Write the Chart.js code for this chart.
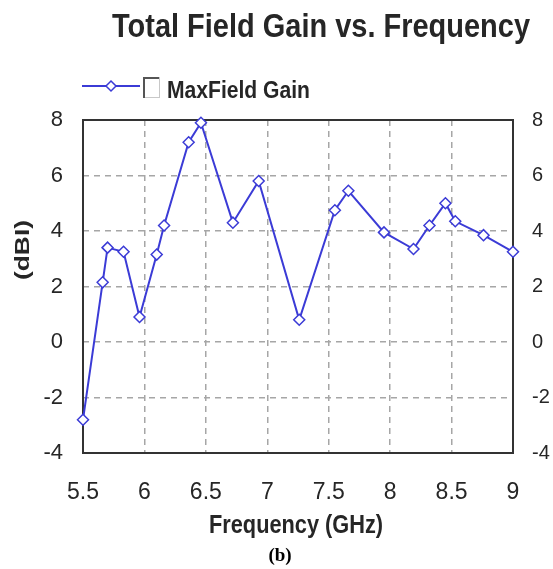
<!DOCTYPE html>
<html>
<head>
<meta charset="utf-8">
<title>Total Field Gain vs. Frequency</title>
<script src="https://cdn.jsdelivr.net/npm/chart.js@4.4.1/dist/chart.umd.min.js"></script>
<style>
  html, body { margin: 0; padding: 0; background: #fff; }
  #wrap { width: 553px; height: 569px; }
</style>
</head>
<body>
<div id="wrap"><canvas id="gainChart" width="553" height="569"></canvas></div>
<script>
// values (GHz, dBi)
const frequencies = [5.50, 5.66, 5.70, 5.83, 5.96, 6.10, 6.16, 6.36, 6.46, 6.72, 6.93,
  7.26, 7.55, 7.66, 7.95, 8.19, 8.32, 8.45, 8.53, 8.76, 9.00];
const maxFieldGain = [-2.8, 2.15, 3.4, 3.25, 0.9, 3.15, 4.2, 7.2, 7.9, 4.3, 5.8,
  0.8, 4.75, 5.45, 3.95, 3.35, 4.2, 5.0, 4.35, 3.85, 3.25];

const xTicks = [5.5, 6, 6.5, 7, 7.5, 8, 8.5, 9];
const xTickLabels = ['5.5', '6', '6.5', '7', '7.5', '8', '8.5', '9'];
const yTicks = [-4, -2, 0, 2, 4, 6, 8];
const yTickLabels = ['-4', '-2', '0', '2', '4', '6', '8'];

const lineBlue = '#3b3bd6';
const gridGrey = '#a6a6a6';
const inkDark = '#262626';
const sans = '"Liberation Sans", Arial, sans-serif';

// the figure's bold labels are a condensed face, so squeeze text to the measured width
function drawFitted(ctx, text, x, y, width, font, align, rotation) {
  ctx.save();
  ctx.font = font;
  const natural = ctx.measureText(text).width;
  ctx.translate(x, y);
  if (rotation) ctx.rotate(rotation);
  ctx.scale(width / natural, 1);
  ctx.textAlign = align || 'left';
  ctx.fillText(text, 0, 0);
  ctx.restore();
}

const setTicks = values => scale => {
  scale.ticks = values.map(v => ({ value: v }));
};
const labelFrom = (values, labels) => value => {
  const i = values.indexOf(value);
  return i < 0 ? '' : labels[i];
};

const figureDecor = {
  id: 'figureDecor',
  beforeDraw(chart) {
    const { ctx } = chart;
    ctx.save();
    ctx.fillStyle = '#fff';
    ctx.fillRect(0, 0, chart.width, chart.height);
    ctx.restore();
  },
  beforeDatasetsDraw(chart) {
    const { ctx, chartArea: a } = chart;
    ctx.save();
    ctx.strokeStyle = '#333';
    ctx.lineWidth = 2;
    ctx.strokeRect(a.left, a.top, a.right - a.left, a.bottom - a.top);
    ctx.restore();
  },
  afterDraw(chart) {
    const { ctx } = chart;
    ctx.save();
    ctx.fillStyle = inkDark;
    ctx.textBaseline = 'alphabetic';
    drawFitted(ctx, 'Total Field Gain vs. Frequency', 321, 37, 418, 'bold 33px ' + sans, 'center');

    // legend: line with diamond, empty check box, label
    ctx.strokeStyle = lineBlue;
    ctx.lineWidth = 2;
    ctx.beginPath();
    ctx.moveTo(82, 86);
    ctx.lineTo(140, 86);
    ctx.stroke();
    ctx.fillStyle = '#fff';
    ctx.lineWidth = 1.5;
    ctx.beginPath();
    ctx.moveTo(111, 81);
    ctx.lineTo(116, 86);
    ctx.lineTo(111, 91);
    ctx.lineTo(106, 86);
    ctx.closePath();
    ctx.fill();
    ctx.stroke();
    ctx.strokeStyle = '#c8c8c8';
    ctx.lineWidth = 1;
    ctx.strokeRect(143.5, 77.5, 16, 20);
    ctx.strokeStyle = '#555';
    ctx.lineWidth = 2;
    ctx.beginPath();
    ctx.moveTo(144, 98);
    ctx.lineTo(144, 78);
    ctx.lineTo(159, 78);
    ctx.stroke();
    ctx.fillStyle = inkDark;
    drawFitted(ctx, 'MaxField Gain', 167, 98, 143, 'bold 24px ' + sans, 'left');

    ctx.textBaseline = 'middle';
    drawFitted(ctx, '(dBI)', 23, 250, 60, 'bold 21px ' + sans, 'center', -Math.PI / 2);
    ctx.textBaseline = 'alphabetic';
    drawFitted(ctx, 'Frequency (GHz)', 296, 533, 174, 'bold 25px ' + sans, 'center');

    ctx.fillStyle = '#000';
    ctx.font = 'bold 19px "Liberation Serif", "Times New Roman", serif';
    ctx.textAlign = 'center';
    ctx.fillText('(b)', 280, 561);
    ctx.restore();
  },
};

const ctx = document.getElementById('gainChart').getContext('2d');
new Chart(ctx, {
  type: 'line',
  data: {
    datasets: [{
      label: 'MaxField Gain',
      data: frequencies.map((f, i) => ({ x: f, y: maxFieldGain[i] })),
      borderColor: lineBlue,
      borderWidth: 2,
      pointStyle: 'rectRot',
      pointRadius: 5.5,
      pointBorderWidth: 1.5,
      pointBorderColor: lineBlue,
      pointBackgroundColor: '#fff',
      tension: 0,
      clip: false,
    }],
  },
  options: {
    responsive: false,
    devicePixelRatio: 1,
    animation: false,
    layout: { padding: { top: 120, left: 0, right: 0, bottom: 0 } },
    plugins: {
      legend: { display: false },
      title: { display: false },
      tooltip: { enabled: false },
    },
    scales: {
      x: {
        type: 'linear',
        min: 5.5,
        max: 9,
        afterBuildTicks: setTicks(xTicks),
        afterFit(scale) { scale.height = 116; },
        grid: { color: gridGrey, lineWidth: 1.5, drawTicks: false },
        border: { display: false, dash: [6, 5] },
        ticks: {
          padding: 26,
          color: inkDark,
          font: { family: sans, size: 23 },
          maxRotation: 0,
          callback: labelFrom(xTicks, xTickLabels),
        },
      },
      y: {
        position: 'left',
        min: -4,
        max: 8,
        afterBuildTicks: setTicks(yTicks),
        afterFit(scale) { scale.width = 83; },
        grid: { color: gridGrey, lineWidth: 1.5, drawTicks: false },
        border: { display: false, dash: [6, 5] },
        ticks: {
          padding: 20,
          color: inkDark,
          font: { family: sans, size: 22 },
          callback: labelFrom(yTicks, yTickLabels),
        },
      },
      y2: {
        position: 'right',
        min: -4,
        max: 8,
        afterBuildTicks: setTicks(yTicks),
        afterFit(scale) { scale.width = 40; },
        grid: { display: false, drawTicks: false },
        border: { display: false },
        ticks: {
          padding: 19,
          color: inkDark,
          font: { family: sans, size: 20 },
          callback: labelFrom(yTicks, yTickLabels),
        },
      },
    },
  },
  plugins: [figureDecor],
});
</script>
</body>
</html>
